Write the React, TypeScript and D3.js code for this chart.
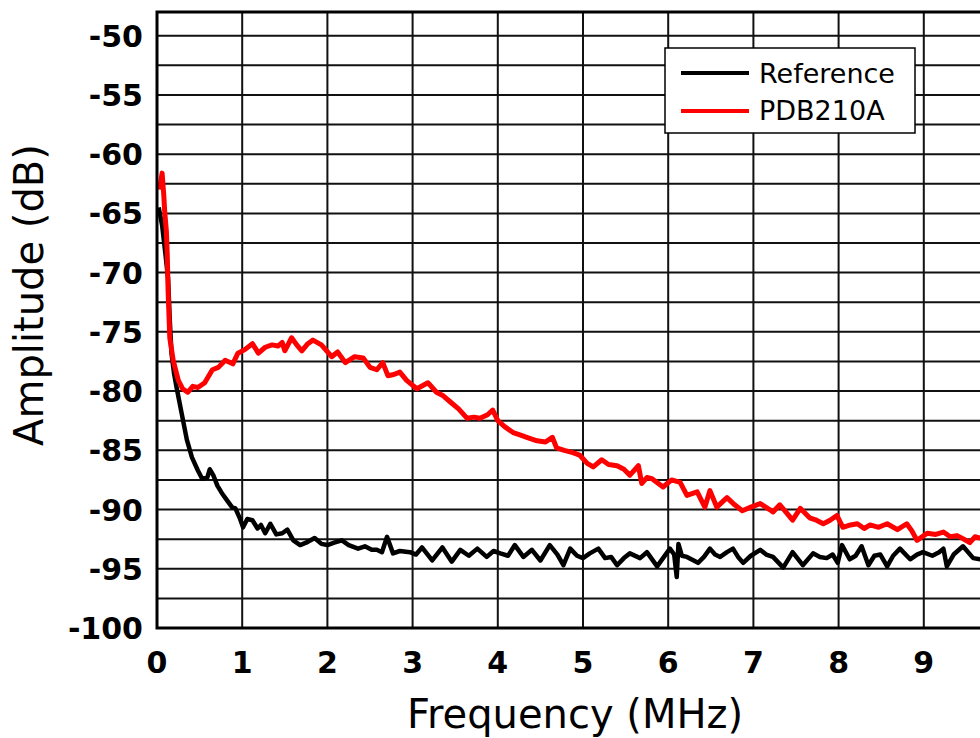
import { scaleLinear, line, range } from "d3"

// Reference trace (black)
const refFreq = [0.02, 0.06, 0.1, 0.13, 0.15, 0.17, 0.2, 0.23, 0.29, 0.35, 0.41, 0.48, 0.53, 0.59, 0.62, 0.66, 0.71, 0.76, 0.82, 0.88, 0.92, 0.97, 1.01, 1.06, 1.12, 1.18, 1.22, 1.27, 1.33, 1.4, 1.47, 1.53, 1.6, 1.68, 1.75, 1.85, 1.93, 2.0, 2.08, 2.17, 2.25, 2.36, 2.44, 2.52, 2.58, 2.64, 2.7, 2.77, 2.85, 2.97, 3.04, 3.11, 3.23, 3.35, 3.46, 3.56, 3.66, 3.76, 3.87, 3.95, 4.03, 4.12, 4.2, 4.3, 4.4, 4.5, 4.61, 4.7, 4.77, 4.85, 4.93, 5.0, 5.08, 5.18, 5.26, 5.33, 5.4, 5.48, 5.55, 5.67, 5.75, 5.87, 5.95, 6.02, 6.07, 6.1, 6.12, 6.16, 6.22, 6.35, 6.42, 6.49, 6.55, 6.61, 6.69, 6.76, 6.82, 6.88, 6.97, 7.08, 7.15, 7.23, 7.35, 7.46, 7.58, 7.7, 7.78, 7.86, 7.93, 7.99, 8.04, 8.13, 8.2, 8.27, 8.35, 8.42, 8.49, 8.57, 8.64, 8.72, 8.84, 8.92, 8.99, 9.1, 9.18, 9.23, 9.27, 9.35, 9.46, 9.58, 9.66, 9.8, 10]
const refAmp = [-64.5, -66, -68.5, -70.5, -74, -76.8, -78.5, -79.7, -81.9, -84.1, -85.6, -86.7, -87.4, -87.3, -86.6, -87.1, -88, -88.6, -89.2, -89.8, -89.9, -90.7, -91.5, -90.8, -90.9, -91.6, -91.3, -92.0, -91.2, -92.1, -92.0, -91.7, -92.6, -93.0, -92.8, -92.4, -92.9, -93.0, -92.8, -92.6, -93.0, -93.3, -93.1, -93.4, -93.4, -93.6, -92.3, -93.7, -93.5, -93.6, -93.8, -93.2, -94.3, -93.2, -94.4, -93.4, -93.9, -93.3, -94.0, -93.5, -93.7, -93.9, -93.0, -94.0, -93.4, -94.3, -93.0, -93.8, -94.7, -93.3, -93.9, -94.1, -93.7, -93.3, -94.1, -94.0, -94.7, -94.1, -93.7, -94.1, -93.6, -94.8, -94.0, -93.3, -93.8, -95.7, -92.9, -93.9, -94.0, -94.5, -94.0, -93.3, -93.8, -94.0, -93.6, -93.3, -94.0, -94.5, -93.9, -93.4, -93.8, -94.0, -94.9, -93.6, -94.7, -93.7, -94.0, -94.1, -93.8, -94.5, -93.0, -94.2, -93.9, -93.1, -94.7, -93.9, -93.8, -94.8, -93.9, -93.3, -94.2, -93.8, -93.6, -93.9, -93.6, -93.3, -94.8, -93.8, -93.1, -94.1, -94.2, -93.9, -94.0]

// PDB210A trace (red)
const pdbFreq = [0.03, 0.06, 0.08, 0.09, 0.11, 0.12, 0.13, 0.15, 0.19, 0.25, 0.3, 0.36, 0.42, 0.48, 0.56, 0.65, 0.72, 0.8, 0.89, 0.95, 1.03, 1.12, 1.19, 1.27, 1.35, 1.42, 1.47, 1.5, 1.58, 1.64, 1.7, 1.77, 1.83, 1.93, 2.05, 2.12, 2.21, 2.32, 2.42, 2.5, 2.58, 2.65, 2.71, 2.78, 2.85, 2.93, 3.05, 3.18, 3.28, 3.36, 3.44, 3.54, 3.64, 3.72, 3.79, 3.88, 3.94, 4.0, 4.08, 4.18, 4.26, 4.34, 4.46, 4.56, 4.64, 4.69, 4.78, 4.88, 4.96, 5.05, 5.12, 5.22, 5.3, 5.4, 5.48, 5.55, 5.65, 5.69, 5.75, 5.81, 5.94, 6.04, 6.14, 6.22, 6.34, 6.43, 6.49, 6.57, 6.69, 6.78, 6.87, 6.97, 7.08, 7.19, 7.23, 7.31, 7.38, 7.46, 7.55, 7.66, 7.74, 7.82, 7.9, 7.98, 8.05, 8.14, 8.22, 8.3, 8.37, 8.47, 8.57, 8.69, 8.8, 8.86, 8.92, 9.04, 9.14, 9.23, 9.31, 9.39, 9.47, 9.54, 9.6, 9.66, 9.8, 10]
const pdbAmp = [-63, -61.6, -63.5, -64.8, -66.5, -68.4, -71.5, -75.5, -77.4, -79.1, -79.8, -80.1, -79.6, -79.7, -79.3, -78.2, -78.0, -77.4, -77.7, -76.8, -76.5, -76.0, -76.8, -76.3, -76.1, -76.2, -75.9, -76.6, -75.5, -76.1, -76.6, -76.0, -75.7, -76.1, -77.1, -76.7, -77.6, -77.1, -77.2, -78.0, -78.2, -77.6, -78.7, -78.6, -78.4, -79.1, -79.8, -79.3, -80.1, -80.4, -80.9, -81.5, -82.3, -82.2, -82.3, -82.0, -81.6, -82.5, -83.0, -83.5, -83.7, -83.9, -84.2, -84.3, -83.9, -84.8, -85.0, -85.2, -85.4, -86.1, -86.4, -85.8, -86.2, -86.3, -86.6, -87.1, -86.3, -87.8, -87.3, -87.4, -88.1, -87.5, -87.7, -88.8, -88.5, -89.8, -88.4, -89.8, -89.0, -89.6, -90.1, -89.8, -89.5, -90.0, -90.2, -89.6, -90.2, -90.9, -89.9, -90.7, -90.9, -91.2, -90.9, -90.5, -91.5, -91.3, -91.2, -91.6, -91.3, -91.5, -91.2, -91.7, -91.2, -91.8, -92.6, -92.0, -92.1, -91.9, -92.3, -92.2, -92.5, -92.8, -92.3, -92.4, -92.6, -92.7]

const xTicks = [0, 1, 2, 3, 4, 5, 6, 7, 8, 9]
const yTicks = [-100, -95, -90, -85, -80, -75, -70, -65, -60, -55, -50]
const seriesNames = ["Reference", "PDB210A"]
const seriesColors = ["#000000", "#ff0000"]

const W = 980
const H = 738
const FONT = "'DejaVu Sans', Verdana, sans-serif"

export default function App() {
  const x = scaleLinear().domain([0, 10]).range([157, 1009])
  const y = scaleLinear().domain([-100, -48]).range([628, 12])

  const refLine = line<number>()
    .x((_, i) => x(refFreq[i]))
    .y((d) => y(d))
  const pdbLine = line<number>()
    .x((_, i) => x(pdbFreq[i]))
    .y((d) => y(d))

  const hGrid = range(-97.5, -48, 2.5)
  const vGrid = range(1, 10, 1)

  return (
    <svg
      width={W}
      height={H}
      style={{ position: "absolute", left: 0, top: 0, background: "#fff" }}
    >
      <defs>
        <clipPath id="plot">
          <rect x={x(0)} y={y(-48)} width={x(10) - x(0)} height={y(-100) - y(-48)} />
        </clipPath>
      </defs>
      <rect x={0} y={0} width={W} height={H} fill="#fff" />

      {hGrid.map((v) => (
        <line key={"h" + v} x1={x(0)} x2={x(10)} y1={y(v)} y2={y(v)} stroke="#111" strokeWidth={2} />
      ))}
      {vGrid.map((v) => (
        <line key={"v" + v} x1={x(v)} x2={x(v)} y1={y(-48)} y2={y(-100)} stroke="#111" strokeWidth={2} />
      ))}

      <g clipPath="url(#plot)">
        <path d={refLine(refAmp) || ""} fill="none" stroke={seriesColors[0]} strokeWidth={4.5} strokeLinejoin="round" />
        <path d={pdbLine(pdbAmp) || ""} fill="none" stroke={seriesColors[1]} strokeWidth={5} strokeLinejoin="round" />
      </g>

      <rect
        x={x(0)}
        y={y(-48)}
        width={x(10) - x(0)}
        height={y(-100) - y(-48)}
        fill="none"
        stroke="#000"
        strokeWidth={3}
      />

      {yTicks.map((v) => (
        <text key={"yt" + v} x={143} y={y(v) + 11} textAnchor="end" fontFamily={FONT} fontWeight="bold" fontSize={30} fill="#000">
          {v}
        </text>
      ))}
      {xTicks.map((v) => (
        <text key={"xt" + v} x={x(v)} y={673} textAnchor="middle" fontFamily={FONT} fontWeight="bold" fontSize={30} fill="#000">
          {v}
        </text>
      ))}

      <text x={575} y={728} textAnchor="middle" fontFamily={FONT} fontSize={40} fill="#000">
        Frequency (MHz)
      </text>
      <text transform="translate(43,295) rotate(-90)" textAnchor="middle" fontFamily={FONT} fontSize={40} fill="#000">
        Amplitude (dB)
      </text>

      <g>
        <rect x={665} y={48} width={250} height={85} fill="#fff" stroke="#000" strokeWidth={1.5} />
        {seriesNames.map((name, i) => (
          <g key={name}>
            <line x1={681} x2={749} y1={73 + i * 38} y2={73 + i * 38} stroke={seriesColors[i]} strokeWidth={4} />
            <text x={759} y={83 + i * 37} fontFamily={FONT} fontSize={27} fill="#000">
              {name}
            </text>
          </g>
        ))}
      </g>
    </svg>
  )
}
